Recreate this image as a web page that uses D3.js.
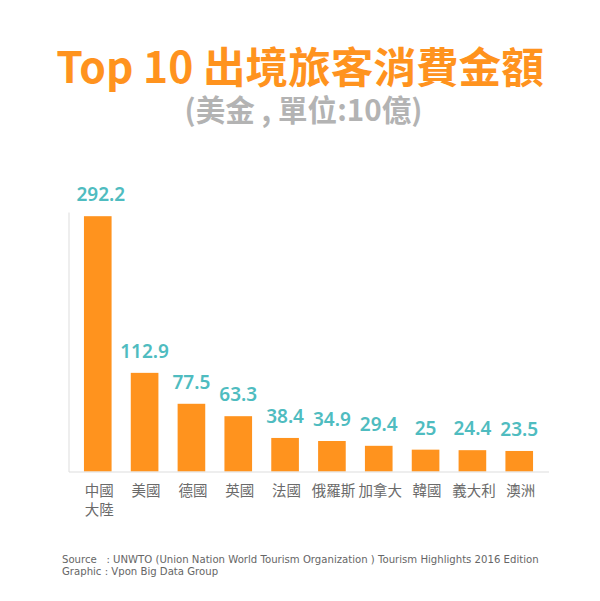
<!DOCTYPE html>
<html lang="zh-Hant">
<head>
    <title>Top 10 出境旅客消費金額</title>
    <meta charset="utf-8">
    <style>
        body { margin: 0; background: white; }
        svg { display: block; background: white; }
        .title { font-family: "Noto Sans CJK TC"; font-weight: 700; font-size: 42.6px; fill: #ff931e; text-anchor: middle; }
        .subtitle { font-family: "Noto Sans CJK TC"; font-weight: 700; font-size: 29.6px; fill: #b3b3b3; text-anchor: middle; }
        .value { font-family: "Noto Sans", sans-serif; font-weight: 600; font-size: 19px; fill: #4fbcc0; text-anchor: middle; }
        .tick text { font-family: "Noto Sans CJK TC"; font-size: 14.5px; fill: #6a6a6a; }
        .domain { stroke: #ddd; stroke-width: 1; }
        .source { font-family: "DejaVu Sans", sans-serif; font-size: 10.15px; fill: #666; }
    </style>
    <script src="https://d3js.org/d3.v7.min.js"></script>
</head>
<body>
<svg id="chart" width="600" height="601"></svg>
<script>
    const categories = ["中國\n大陸", "美國", "德國", "英國", "法國", "俄羅斯", "加拿大", "韓國", "義大利", "澳洲"];
    const values = [292.2, 112.9, 77.5, 63.3, 38.4, 34.9, 29.4, 25, 24.4, 23.5];
    const sourceLines = [
        "Source   : UNWTO (Union Nation World Tourism Organization ) Tourism Highlights 2016 Edition",
        "Graphic : Vpon Big Data Group"
    ];

    const svg = d3.select("#chart");

    const x = d3.scaleBand()
        .domain(categories)
        .range([68.5, 548.5])
        .paddingInner(0.41)
        .paddingOuter(0.33);

    const y = d3.scaleLinear()
        .domain([0, 297])
        .range([471.5, 212]);

    svg.append("text").attr("class", "title").attr("x", 300).attr("y", 82.5).text("Top 10 出境旅客消費金額");
    svg.append("text").attr("class", "subtitle").attr("x", 303.5).attr("y", 120.5).text("(美金 , 單位:10億)");

    svg.selectAll(".bar")
        .data(values)
        .join("rect")
        .attr("class", "bar")
        .attr("x", (d, i) => x(categories[i]))
        .attr("y", d => y(d))
        .attr("width", x.bandwidth())
        .attr("height", d => y(0) - y(d))
        .attr("fill", "#ff931e");

    // the tallest bar's label sits a bit right of centre in the original
    svg.selectAll(".value")
        .data(values)
        .join("text")
        .attr("class", "value")
        .attr("x", (d, i) => x(categories[i]) + x.bandwidth() / 2 + (i === 0 ? 3 : 0))
        .attr("y", d => y(d) - 15)
        .text(d => d);

    // axes, no ticks, only the thin grey lines
    const xAxis = svg.append("g")
        .attr("transform", `translate(0,${y(0)})`)
        .call(d3.axisBottom(x).tickSize(0).tickSizeOuter(0));
    svg.append("g")
        .attr("transform", "translate(68.5,0)")
        .call(d3.axisLeft(y).tickValues([]).tickSize(0));

    xAxis.selectAll(".tick text").each(function (d) {
        const label = d3.select(this).text("").attr("y", 0).attr("dy", null);
        d.split("\n").forEach((line, i) => {
            label.append("tspan").attr("x", 1.5).attr("y", 24.5 + i * 19).text(line);
        });
    });

    svg.selectAll(".source")
        .data(sourceLines)
        .join("text")
        .attr("class", "source")
        .attr("x", 62)
        .attr("y", (d, i) => 563 + i * 12)
        .attr("xml:space", "preserve")
        .text(d => d);
</script>
</body>
</html>
